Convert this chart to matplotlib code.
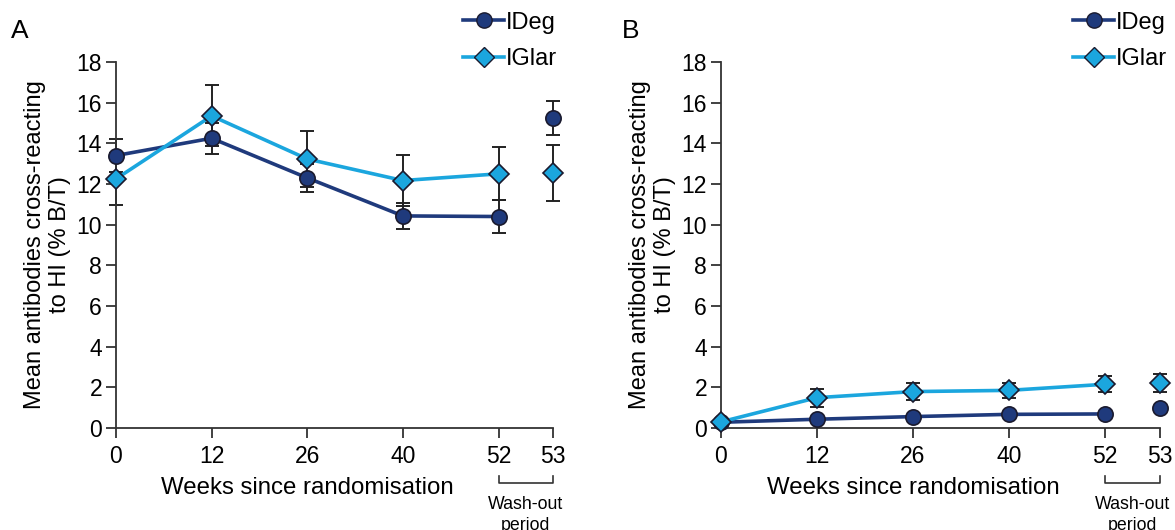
import numpy as np
import matplotlib.pyplot as plt
from matplotlib.transforms import blended_transform_factory
from matplotlib.lines import Line2D

plt.rcParams['font.family'] = ['Liberation Sans', 'DejaVu Sans']

# categorical positions of the weeks (53 sits closer to 52)
weeks = ['0', '12', '26', '40', '52', '53']
pos = [0, 1, 2, 3, 4, 4.57]

# panel A
a_ideg = [13.4, 14.25, 12.3, 10.43, 10.4, 15.25]
a_ideg_err = [0.8, 0.75, 0.7, 0.65, 0.8, 0.83]
a_iglar = [12.25, 15.35, 13.23, 12.17, 12.5, 12.53]
a_iglar_err = [1.28, 1.5, 1.4, 1.26, 1.3, 1.38]

# panel B
b_ideg = [0.28, 0.43, 0.56, 0.67, 0.69, 0.97]
b_ideg_err = [0.08, 0.1, 0.1, 0.1, 0.1, 0.1]
b_iglar = [0.3, 1.49, 1.79, 1.85, 2.15, 2.2]
b_iglar_err = [0.1, 0.45, 0.42, 0.38, 0.4, 0.45]

dark = '#1f3a7c'
light = '#1ba6de'

fig = plt.figure(figsize=(11.75, 5.3), dpi=100)
axA = fig.add_axes([0.0987, 0.1925, 0.372, 0.6905])
axB = fig.add_axes([0.6136, 0.1925, 0.3734, 0.6905])


def panel(ax, ideg, ideg_err, iglar, iglar_err):
    for y, e, c, m, ms in [(ideg, ideg_err, dark, 'o', 11),
                           (iglar, iglar_err, light, 'D', 10.5)]:
        ax.errorbar(pos, y, yerr=e, fmt='none', ecolor='#222222',
                    elinewidth=1.4, capsize=5, capthick=1.4, clip_on=False, zorder=2)
        ax.plot(pos[:5], y[:5], color=c, lw=2.6, zorder=3, clip_on=False)
        ax.plot(pos, y, ls='none', marker=m, ms=ms, mfc=c, mec='#1a1a2e',
                mew=1.2, zorder=4, clip_on=False)
    ax.set_xlim(0, 4.57)
    ax.set_ylim(0, 18)
    ax.set_yticks(np.arange(0, 19, 2))
    ax.set_xticks(pos)
    ax.set_xticklabels(weeks)
    ax.spines['top'].set_visible(False)
    ax.spines['right'].set_visible(False)
    for s in ['left', 'bottom']:
        ax.spines[s].set_linewidth(1.3)
        ax.spines[s].set_color('#333333')
    ax.tick_params(direction='out', length=7, width=1.3, labelsize=16.5, color='#333333', pad=3)
    ax.tick_params(axis='x', pad=5)
    ax.set_ylabel('Mean antibodies cross-reacting\nto HI (% B/T)', fontsize=17, labelpad=4,
                  linespacing=1.15)
    tr = blended_transform_factory(ax.transData, ax.transAxes)
    ax.text(2, -0.163, 'Weeks since randomisation', transform=tr, ha='center', va='center',
            fontsize=17.3)
    # wash-out bracket
    ax.plot([4, 4, 4.57, 4.57], [-0.131, -0.150, -0.150, -0.131], transform=tr,
            color='#333333', lw=1.2, clip_on=False)
    ax.text(4.285, -0.185, 'Wash-out\nperiod', transform=tr, ha='center', va='top',
            fontsize=12.8, linespacing=1.35)


panel(axA, a_ideg, a_ideg_err, a_iglar, a_iglar_err)
panel(axB, b_ideg, b_ideg_err, b_iglar, b_iglar_err)

handles = [Line2D([], [], color=dark, lw=2.6, marker='o', ms=11, mfc=dark, mec='#1a1a2e'),
           Line2D([], [], color=light, lw=2.6, marker='D', ms=10.5, mfc=light, mec='#1a1a2e')]
for x0 in [463 / 1175, 1073 / 1175]:
    fig.legend(handles, ['IDeg', 'IGlar'], loc='upper left', bbox_to_anchor=(x0, 0.978),
               frameon=False, fontsize=17, handlelength=1.75, handletextpad=0.08,
               labelspacing=0.6, borderaxespad=0, borderpad=0)

fig.text(0.009, 0.965, 'A', fontsize=19, va='top')
fig.text(0.529, 0.965, 'B', fontsize=19, va='top')

fig.savefig('out.png', dpi=100)
